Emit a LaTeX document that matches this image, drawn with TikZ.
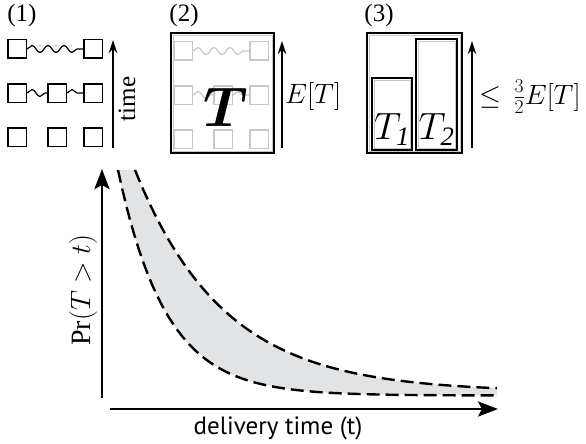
\documentclass[tikz,border=0pt]{standalone}
\usepackage{fix-cm}
\usepackage{fontspec}
\setmainfont{Liberation Serif}
\newfontfamily\axisfont{PT Sans}
\usetikzlibrary{arrows.meta, decorations.pathmorphing}
\definecolor{cband}{HTML}{E2E3E5}
\definecolor{cfaint}{HTML}{C8C8C8}
\tikzset{
  sq/.style={draw=#1, line width=1.5pt, minimum size=18.5pt, inner sep=0pt},
  sq/.default=black,
  wave/.style={draw=#1, line width=1.2pt, decorate, decoration={snake, amplitude=3.5pt, segment length=16pt}},
  wave/.default=black,
  frame/.style={draw, line width=1.1pt, inner sep=0pt},
  up/.style={-{Stealth[length=13pt, width=8.5pt]}, line width=2pt},
  axis/.style={-{Stealth[length=20pt, width=15pt, inset=4pt]}, line width=2.8pt},
  curve/.style={line width=2.4pt, dash pattern=on 13pt off 6pt},
  lab/.style={font=\fontsize{25}{29}\selectfont, inner sep=0pt},
  mlab/.style={font=\fontsize{28}{32}\selectfont, inner sep=0pt},
  bigmath/.style={font=\fontsize{56}{62}\selectfont\boldmath, inner sep=0pt},
  boxlab/.style={font=\fontsize{38}{42}\selectfont, inner sep=0pt, anchor=base},
}
% three rows of squares, linked by waves
\newcommand\ladder[2]{%
  \node[sq=#2] (#1-1l) at (17,49) {};
  \node[sq=#2] (#1-1r) at (93,49) {};
  \node[sq=#2] (#1-2l) at (17,93) {};
  \node[sq=#2] (#1-2m) at (57,93) {};
  \node[sq=#2] (#1-2r) at (93,93) {};
  \node[sq=#2] (#1-3l) at (17,137) {};
  \node[sq=#2] (#1-3m) at (57,137) {};
  \node[sq=#2] (#1-3r) at (93,137) {};
  \draw[wave=#2] (#1-1l) -- (#1-1r);
  \draw[wave=#2] (#1-2l) -- (#1-2m);
  \draw[wave=#2] (#1-2m) -- (#1-2r);
}
% grey line just inside a frame
\newcommand\greyrim[1]{%
  \draw[cfaint, line width=0.8pt] ([shift={(2.5pt,2.5pt)}]#1.south west) rectangle ([shift={(-2.5pt,-2.5pt)}]#1.north east);%
}

\begin{document}
\begin{tikzpicture}[x=1pt, y=-1pt]
  \useasboundingbox (0,0) rectangle (586,444);

  % (1)
  \node[lab] (n1) at (22,15) {(1)};
  \ladder{a}{black}
  \coordinate (t0) at (113,148);
  \coordinate (t1) at (113,40);
  \draw[up] (t0) -- (t1);
  \node[lab, rotate=90] (time) at (127,99) {time};

  % (2)
  \node[lab] (n2) at (184,15) {(2)};
  \begin{scope}[shift={(166,2)}]
    \ladder{b}{cfaint}
  \end{scope}
  \node[frame, minimum width=103pt, minimum height=120pt] (b2) at (222.5,93) {};
  \greyrim{b2}
  \node[bigmath] (bigT) at (226,107) {$T$};
  \coordinate (e0) at (282,148);
  \coordinate (e1) at (282,41);
  \draw[up] (e0) -- (e1);
  \node[mlab, anchor=west] (et) at (285,97) {$E[T]$};

  % (3)
  \node[lab] (n3) at (379,15) {(3)};
  \node[frame, minimum width=95pt, minimum height=120pt] (b3) at (414.5,93) {};
  \greyrim{b3}
  \node[frame, minimum width=40pt, minimum height=72pt] (p1) at (392,114) {};
  \greyrim{p1}
  \node[frame, minimum width=41pt, minimum height=111pt] (p2) at (436.5,94.5) {};
  \greyrim{p2}
  \node[boxlab] (tp1) at ([yshift=11pt]p1.south) {$T_{\mathit{1}}$};
  \node[boxlab] (tp2) at ([yshift=11pt]p2.south) {$T_{\mathit{2}}$};
  \coordinate (f0) at (472,148);
  \coordinate (f1) at (472,41);
  \draw[up] (f0) -- (f1);
  \node[mlab, anchor=west] (bound) at (479,97) {$\leq\,\frac{3}{2}E[T]$};

  % tail plot
  \fill[cband] plot[domain=135:497, samples=90] (\x,{392-222*exp(-(\x-135)/89)})
    -- plot[domain=497:118, samples=90] (\x,{395.5-225.5*exp(-(\x-118)/48)}) -- cycle;
  \draw[curve] plot[domain=135:497, samples=90] (\x,{392-222*exp(-(\x-135)/89)});
  \draw[curve] plot[domain=118:497, samples=90] (\x,{395.5-225.5*exp(-(\x-118)/48)});
  \coordinate (ya) at (102,398);
  \coordinate (yb) at (102,169);
  \coordinate (xa) at (110,409);
  \coordinate (xb) at (498,409);
  \draw[axis] (ya) -- (yb);
  \draw[axis] (xa) -- (xb);
  \node[mlab, rotate=90] (ylab) at (83,290) {$\Pr(T>t)$};
  \node[inner sep=0pt, font=\axisfont\fontsize{25}{29}\selectfont] (xlab) at (278,428) {delivery time (t)};
\end{tikzpicture}
\end{document}
